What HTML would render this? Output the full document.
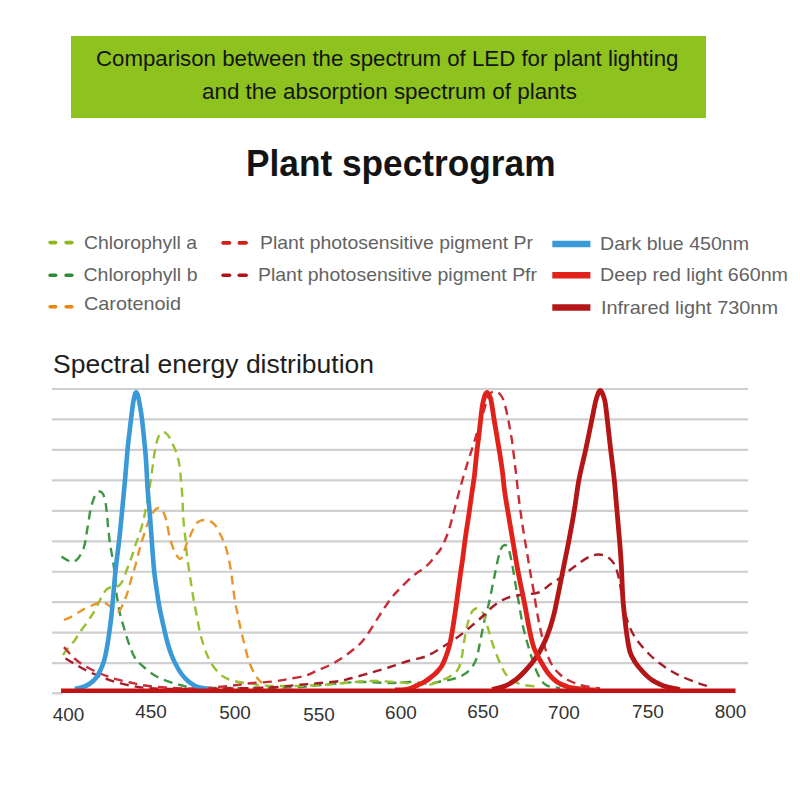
<!DOCTYPE html>
<html><head><meta charset="utf-8"><style>
html,body{margin:0;padding:0;background:#fff;}
body{width:800px;height:800px;overflow:hidden;}
svg{display:block;}
text{font-family:"Liberation Sans",sans-serif;}
</style></head><body>
<svg width="800" height="800" viewBox="0 0 800 800">
<rect x="0" y="0" width="800" height="800" fill="#fff"/>
<rect x="71" y="36" width="635" height="82" fill="#8dc21f"/>
<g fill="#141414" font-size="22.2">
<text x="96" y="66" textLength="582.5" lengthAdjust="spacingAndGlyphs">Comparison between the spectrum of LED for plant lighting</text>
<text x="202" y="99" textLength="375" lengthAdjust="spacingAndGlyphs">and the absorption spectrum of plants</text>
</g>
<text x="246" y="176" font-size="36" font-weight="bold" fill="#141414" textLength="309.5" lengthAdjust="spacingAndGlyphs">Plant spectrogram</text>
<g stroke-width="3.6" stroke-linecap="round">
<line x1="50.2" y1="242.6" x2="55.6" y2="242.6" stroke="#8cb81c"/><line x1="66.2" y1="242.6" x2="71.8" y2="242.6" stroke="#8cb81c"/>
<line x1="50.2" y1="275.2" x2="55.6" y2="275.2" stroke="#2b8c30"/><line x1="66.2" y1="275.2" x2="71.8" y2="275.2" stroke="#2b8c30"/>
<line x1="50.2" y1="306.7" x2="55.6" y2="306.7" stroke="#e8870f"/><line x1="66.2" y1="306.7" x2="71.8" y2="306.7" stroke="#e8870f"/>
<line x1="223.1" y1="242.9" x2="229.5" y2="242.9" stroke="#d41e16"/><line x1="239.3" y1="242.9" x2="246.1" y2="242.9" stroke="#d41e16"/>
<line x1="223.1" y1="275.3" x2="229.5" y2="275.3" stroke="#b0101a"/><line x1="239.3" y1="275.3" x2="246.1" y2="275.3" stroke="#b0101a"/>
</g>
<g stroke-width="6.5">
<line x1="552.3" y1="244" x2="590.4" y2="244" stroke="#3a9ad8"/>
<line x1="552.3" y1="275.3" x2="590.4" y2="275.3" stroke="#e0221a"/>
<line x1="552.3" y1="307.4" x2="590.4" y2="307.4" stroke="#b41618"/>
</g>
<g fill="#636363" font-size="17.8">
<text x="84" y="248.6" textLength="113" lengthAdjust="spacingAndGlyphs">Chlorophyll a</text>
<text x="83.5" y="281" textLength="114" lengthAdjust="spacingAndGlyphs">Chlorophyll b</text>
<text x="84" y="310.3" textLength="97" lengthAdjust="spacingAndGlyphs">Carotenoid</text>
<text x="260" y="249" textLength="273" lengthAdjust="spacingAndGlyphs">Plant photosensitive pigment Pr</text>
<text x="258" y="281" textLength="279" lengthAdjust="spacingAndGlyphs">Plant photosensitive pigment Pfr</text>
<text x="600" y="249.9" textLength="149" lengthAdjust="spacingAndGlyphs">Dark blue 450nm</text>
<text x="600" y="280.5" textLength="188" lengthAdjust="spacingAndGlyphs">Deep red light 660nm</text>
<text x="601" y="313.7" textLength="177" lengthAdjust="spacingAndGlyphs">Infrared light 730nm</text>
</g>
<text x="53" y="373.2" font-size="25.6" fill="#1e1e1e" textLength="321" lengthAdjust="spacingAndGlyphs">Spectral energy distribution</text>
<g stroke="#cfcfcf" stroke-width="2.2"><line x1="52" y1="389.00" x2="748" y2="389.00"/><line x1="52" y1="419.46" x2="748" y2="419.46"/><line x1="52" y1="449.92" x2="748" y2="449.92"/><line x1="52" y1="480.38" x2="748" y2="480.38"/><line x1="52" y1="510.84" x2="748" y2="510.84"/><line x1="52" y1="541.30" x2="748" y2="541.30"/><line x1="52" y1="571.76" x2="748" y2="571.76"/><line x1="52" y1="602.22" x2="748" y2="602.22"/><line x1="52" y1="632.68" x2="748" y2="632.68"/><line x1="52" y1="663.14" x2="748" y2="663.14"/><line x1="52" y1="693.3" x2="63" y2="693.3"/></g>
<path d="M61.5 556.5 C62.4 557.1 65.2 559.1 67.0 560.0 C68.8 560.9 70.2 562.2 72.0 562.0 C73.8 561.8 76.0 561.0 78.0 558.5 C80.0 556.0 82.5 551.6 84.0 547.0 C85.5 542.4 85.9 537.2 87.0 531.0 C88.1 524.8 89.3 515.5 90.5 510.0 C91.7 504.5 92.9 500.8 94.0 498.0 C95.1 495.2 96.0 494.1 97.0 493.0 C98.0 491.9 99.0 491.3 100.0 491.5 C101.0 491.7 102.2 492.6 103.0 494.0 C103.8 495.4 104.4 497.3 105.0 500.0 C105.6 502.7 105.8 503.3 106.5 510.0 C107.2 516.7 108.6 532.5 109.5 540.0 C110.4 547.5 111.2 550.3 112.0 555.0 C112.8 559.7 113.3 562.2 114.0 568.0 C114.7 573.8 115.4 584.7 116.0 590.0 C116.6 595.3 116.8 596.0 117.5 600.0 C118.2 604.0 118.9 609.3 120.0 614.0 C121.1 618.7 122.5 623.0 124.0 628.0 C125.5 633.0 127.2 639.0 129.0 644.0 C130.8 649.0 132.7 654.3 135.0 658.0 C137.3 661.7 139.2 663.0 142.6 666.0 C146.0 669.0 150.9 673.2 155.7 676.0 C160.5 678.8 166.9 680.9 171.5 682.5 C176.1 684.1 179.8 684.9 183.3 685.8 C186.8 686.7 186.4 687.4 192.5 687.8 C198.6 688.2 208.8 688.0 220.0 688.0 C231.2 688.0 246.7 688.2 260.0 688.0 C273.3 687.8 288.3 687.7 300.0 687.0 C311.7 686.3 320.0 684.8 330.0 684.0 C340.0 683.2 350.0 682.2 360.0 682.0 C370.0 681.8 381.7 683.0 390.0 683.0 C398.3 683.0 403.6 681.9 410.0 682.0 C416.4 682.1 423.1 683.6 428.2 683.5 C433.4 683.4 436.7 682.2 440.6 681.5 C444.5 680.8 447.9 680.4 451.6 679.4 C455.3 678.4 459.4 677.1 462.6 675.3 C465.8 673.5 468.7 671.2 471.0 668.4 C473.3 665.6 475.0 662.6 476.4 658.8 C477.8 654.9 478.5 649.8 479.5 645.0 C480.5 640.2 481.5 634.8 482.5 630.0 C483.5 625.2 484.4 620.5 485.5 616.0 C486.6 611.5 487.7 608.6 489.0 602.8 C490.3 596.9 492.2 587.1 493.5 581.0 C494.8 574.9 495.5 570.7 496.5 566.0 C497.5 561.3 498.6 556.2 499.5 553.0 C500.4 549.8 501.1 548.3 502.0 547.0 C502.9 545.7 503.8 545.0 504.8 545.0 C505.7 545.0 506.6 545.5 507.5 547.0 C508.4 548.5 509.1 550.3 510.0 554.0 C510.9 557.7 512.0 563.5 513.0 569.0 C514.0 574.5 515.1 581.7 516.0 587.0 C516.9 592.3 517.3 594.3 518.5 601.0 C519.7 607.7 521.4 619.1 523.2 627.2 C525.1 635.4 527.1 642.4 529.4 650.0 C531.7 657.6 534.5 666.9 537.2 672.8 C540.0 678.6 542.2 682.5 546.0 685.0 C549.8 687.5 557.7 687.5 560.0 688.0" stroke="#3d9644" stroke-width="2.4" stroke-dasharray="9 6" fill="none"/><path d="M63.0 655.0 C63.8 653.8 66.0 650.5 68.0 648.0 C70.0 645.5 73.0 642.7 75.0 640.0 C77.0 637.3 78.2 634.7 80.0 632.0 C81.8 629.3 84.0 626.8 86.0 624.0 C88.0 621.2 90.5 617.3 92.0 615.0 C93.5 612.7 93.8 612.2 95.0 610.0 C96.2 607.8 97.8 604.3 99.0 602.0 C100.2 599.7 100.8 598.0 102.0 596.0 C103.2 594.0 104.7 591.4 106.0 590.0 C107.3 588.6 108.5 588.0 110.0 587.5 C111.5 587.0 113.5 587.3 115.0 587.0 C116.5 586.7 117.8 586.5 119.0 585.5 C120.2 584.5 121.1 583.9 122.5 581.0 C123.9 578.1 126.0 571.9 127.5 568.0 C129.0 564.1 130.2 561.1 131.5 557.5 C132.8 553.9 133.8 549.8 135.0 546.2 C136.2 542.7 137.5 540.0 138.8 536.2 C140.0 532.5 141.4 528.1 142.5 523.8 C143.6 519.4 144.2 517.1 145.6 510.0 C146.9 502.9 149.4 488.3 150.6 481.2 C151.8 474.2 151.8 472.2 152.5 467.5 C153.2 462.8 153.8 457.1 154.5 453.0 C155.2 448.9 155.8 445.8 156.5 443.0 C157.2 440.2 157.7 438.2 158.5 436.5 C159.3 434.8 160.4 433.2 161.5 432.5 C162.6 431.8 163.8 431.9 165.0 432.5 C166.2 433.1 167.3 434.3 168.5 436.0 C169.7 437.7 170.7 439.8 172.0 442.5 C173.3 445.2 175.0 448.8 176.2 452.5 C177.5 456.2 178.6 460.0 179.4 465.0 C180.2 470.0 180.7 476.7 181.2 482.5 C181.8 488.3 182.2 494.6 182.5 500.0 C182.8 505.4 182.8 510.0 183.1 515.0 C183.4 520.0 184.0 525.8 184.4 530.0 C184.8 534.2 185.2 535.8 185.6 540.0 C186.0 544.2 186.3 549.6 186.9 555.0 C187.5 560.4 188.6 566.9 189.4 572.5 C190.2 578.1 191.1 583.8 191.9 588.8 C192.7 593.7 193.2 597.3 194.0 602.0 C194.8 606.7 196.0 611.9 197.0 617.0 C198.0 622.1 198.9 627.9 200.0 632.6 C201.1 637.3 202.2 640.9 203.5 645.0 C204.8 649.1 206.4 653.5 208.0 657.0 C209.6 660.5 210.7 662.9 213.0 666.0 C215.3 669.1 218.5 673.2 222.0 675.8 C225.5 678.2 229.5 679.8 234.0 681.0 C238.5 682.2 244.2 682.5 249.0 683.2 C253.8 684.0 255.7 685.0 262.5 685.5 C269.3 686.0 280.4 686.1 290.0 686.0 C299.6 685.9 310.8 685.5 320.0 685.0 C329.2 684.5 336.7 683.7 345.0 683.0 C353.3 682.3 361.7 681.2 370.0 681.0 C378.3 680.8 387.5 681.5 395.0 682.0 C402.5 682.5 409.5 683.5 415.0 684.0 C420.5 684.5 424.0 685.5 428.2 685.0 C432.5 684.5 436.7 682.4 440.6 680.8 C444.5 679.2 448.6 677.4 451.6 675.3 C454.6 673.2 456.8 671.6 458.5 668.4 C460.2 665.2 461.1 660.4 462.0 656.0 C462.9 651.6 463.2 646.8 464.0 642.0 C464.8 637.2 465.9 631.1 466.8 627.0 C467.7 622.9 468.6 620.2 469.5 617.5 C470.4 614.8 471.4 612.5 472.5 611.0 C473.6 609.5 474.8 608.8 476.0 608.5 C477.2 608.2 478.3 608.7 479.5 609.5 C480.7 610.3 481.5 610.0 483.0 613.2 C484.5 616.5 486.5 623.5 488.2 629.0 C490.0 634.5 491.5 640.7 493.5 646.5 C495.5 652.3 498.2 659.0 500.5 664.0 C502.8 669.0 504.2 672.9 507.5 676.2 C510.8 679.6 514.6 682.2 520.0 684.0 C525.4 685.8 536.7 686.5 540.0 687.0" stroke="#98c030" stroke-width="2.4" stroke-dasharray="9 6" fill="none"/><path d="M64.0 620.0 C65.3 619.4 69.3 617.9 72.0 616.5 C74.7 615.1 77.8 612.8 80.0 611.5 C82.2 610.2 82.8 609.6 85.0 608.5 C87.2 607.4 90.8 605.9 93.0 605.0 C95.2 604.1 96.0 603.3 98.0 603.0 C100.0 602.7 103.1 602.5 105.0 603.0 C106.9 603.5 108.0 605.0 109.5 606.0 C111.0 607.0 112.4 608.2 114.0 609.0 C115.6 609.8 117.5 611.8 119.0 611.0 C120.5 610.2 121.7 606.8 123.0 604.0 C124.3 601.2 125.7 598.0 127.0 594.0 C128.3 590.0 129.5 585.2 131.0 580.0 C132.5 574.8 134.8 567.9 136.2 562.5 C137.8 557.1 138.6 552.4 140.0 547.5 C141.4 542.6 142.9 537.8 144.5 533.0 C146.1 528.2 147.8 522.8 149.5 519.0 C151.2 515.2 153.0 512.3 154.5 510.5 C156.0 508.7 157.2 508.0 158.5 508.0 C159.8 508.0 161.4 509.2 162.5 510.5 C163.6 511.8 164.2 513.8 165.0 516.0 C165.8 518.2 166.3 520.1 167.0 523.5 C167.7 526.9 168.7 533.1 169.4 536.2 C170.1 539.4 170.3 539.8 171.2 542.5 C172.2 545.2 173.6 549.8 175.0 552.5 C176.4 555.2 178.2 558.1 179.4 558.8 C180.7 559.4 181.4 558.5 182.5 556.2 C183.6 554.0 185.0 548.3 186.2 545.0 C187.5 541.7 188.8 539.1 190.0 536.2 C191.2 533.4 192.4 530.4 193.8 528.0 C195.1 525.6 196.3 523.3 198.0 522.0 C199.7 520.7 201.8 520.2 203.8 520.0 C205.8 519.8 208.1 520.2 210.0 521.0 C211.9 521.8 213.3 522.9 215.0 525.0 C216.7 527.1 218.3 530.4 220.0 533.8 C221.7 537.1 223.5 540.8 225.0 545.0 C226.5 549.2 227.7 553.8 228.8 558.8 C229.8 563.8 230.5 568.1 231.5 575.0 C232.5 581.9 233.8 593.3 234.8 600.0 C235.9 606.7 236.8 610.0 237.8 615.0 C238.8 620.0 239.8 625.0 240.9 630.0 C242.0 635.0 243.3 639.8 244.6 645.0 C245.9 650.2 247.3 656.4 248.8 661.0 C250.3 665.6 252.3 669.5 253.8 672.5 C255.3 675.5 256.6 677.2 258.0 679.0 C259.4 680.8 261.3 682.3 262.0 683.0" stroke="#e8962c" stroke-width="2.4" stroke-dasharray="9 6" fill="none"/><path d="M65.5 658.5 C67.0 659.4 71.2 661.9 74.5 663.8 C77.8 665.6 80.8 667.6 85.0 669.8 C89.2 671.9 95.0 674.5 100.0 676.5 C105.0 678.5 110.0 680.2 115.0 681.8 C120.0 683.2 125.0 684.5 130.0 685.5 C135.0 686.5 138.3 687.2 145.0 687.8 C151.7 688.3 155.4 688.9 170.0 689.0 C184.6 689.1 215.4 688.7 232.5 688.4 C249.6 688.1 261.7 687.8 272.5 687.2 C283.3 686.7 290.0 685.7 297.5 685.0 C305.0 684.3 310.4 684.0 317.5 683.3 C324.6 682.6 334.6 681.8 340.0 681.0 C345.4 680.2 345.0 679.8 350.0 678.5 C355.0 677.2 363.3 674.9 370.0 673.0 C376.7 671.1 383.3 669.1 390.0 667.0 C396.7 664.9 404.3 662.2 410.0 660.5 C415.7 658.8 420.0 658.3 424.0 657.0 C428.0 655.7 430.5 654.2 433.8 652.5 C437.0 650.8 440.0 648.8 443.4 646.6 C446.8 644.4 450.7 642.1 454.4 639.5 C458.1 636.9 462.0 634.0 465.4 631.2 C468.8 628.5 472.1 625.5 475.0 623.0 C477.9 620.5 480.5 618.3 483.0 616.0 C485.5 613.7 487.2 611.4 490.0 609.0 C492.8 606.6 496.7 603.5 500.0 601.5 C503.3 599.5 506.7 598.1 510.0 597.0 C513.3 595.9 516.7 595.5 520.0 595.0 C523.3 594.5 526.7 594.5 530.0 594.0 C533.3 593.5 536.7 593.6 540.0 592.0 C543.3 590.4 546.7 586.8 550.0 584.5 C553.3 582.2 556.7 580.4 560.0 578.0 C563.3 575.6 566.7 572.6 570.0 570.0 C573.3 567.4 576.7 564.8 580.0 562.5 C583.3 560.2 587.0 557.8 590.0 556.5 C593.0 555.2 595.3 554.6 598.0 554.5 C600.7 554.4 603.7 554.9 606.0 556.0 C608.3 557.1 610.3 559.0 612.0 561.0 C613.7 563.0 614.8 565.0 616.0 568.0 C617.2 571.0 618.2 575.3 619.0 579.0 C619.8 582.7 620.3 586.0 621.0 590.0 C621.7 594.0 622.1 598.3 623.0 603.0 C623.9 607.7 625.0 613.2 626.5 618.0 C628.0 622.8 629.8 627.7 632.0 632.0 C634.2 636.3 637.0 640.2 640.0 644.0 C643.0 647.8 646.7 651.8 650.0 655.0 C653.3 658.2 656.3 660.8 660.0 663.5 C663.7 666.2 667.8 669.1 672.0 671.5 C676.2 673.9 680.3 676.0 685.0 678.0 C689.7 680.0 695.5 682.2 700.0 683.8 C704.5 685.3 710.0 686.9 712.0 687.5" stroke="#a61c28" stroke-width="2.4" stroke-dasharray="9 6" fill="none"/><path d="M64.0 647.2 C65.8 649.1 71.0 655.4 74.5 658.5 C78.0 661.6 80.8 663.5 85.0 666.0 C89.2 668.5 95.0 671.4 100.0 673.5 C105.0 675.6 110.0 677.2 115.0 678.8 C120.0 680.2 125.0 681.4 130.0 682.5 C135.0 683.6 138.8 684.6 145.0 685.5 C151.2 686.4 158.3 687.2 167.5 687.7 C176.7 688.2 189.2 688.8 200.0 688.4 C210.8 688.0 224.2 686.4 232.5 685.5 C240.8 684.6 243.3 683.9 250.0 683.3 C256.7 682.6 265.9 682.4 272.5 681.6 C279.1 680.9 283.8 679.8 289.4 678.8 C295.0 677.8 301.6 676.8 306.2 675.4 C310.9 674.0 313.5 672.1 317.5 670.4 C321.5 668.7 325.9 667.1 330.0 665.0 C334.1 662.9 338.0 660.7 342.0 658.0 C346.0 655.3 350.3 652.1 354.0 649.0 C357.7 645.9 360.1 644.4 364.0 639.3 C367.9 634.2 373.9 624.2 377.5 618.6 C381.1 613.0 383.2 609.7 385.8 605.9 C388.3 602.1 390.6 598.9 393.0 596.0 C395.4 593.1 397.0 591.6 400.0 588.5 C403.0 585.4 408.1 580.2 411.0 577.5 C413.9 574.8 415.3 574.1 417.5 572.5 C419.7 570.9 421.9 569.7 424.0 568.0 C426.1 566.3 428.2 564.5 430.0 562.5 C431.8 560.5 433.3 558.1 435.0 556.0 C436.7 553.9 438.5 552.2 440.0 550.0 C441.5 547.8 442.8 545.2 444.0 542.5 C445.2 539.8 446.3 537.3 447.5 534.0 C448.7 530.7 449.9 526.5 451.0 522.5 C452.1 518.5 453.1 514.8 454.3 510.0 C455.6 505.2 457.1 499.3 458.5 494.0 C459.9 488.7 461.5 483.2 463.0 478.0 C464.5 472.8 466.0 467.8 467.5 463.0 C469.0 458.2 470.6 453.5 472.0 449.0 C473.4 444.5 474.7 440.3 476.0 436.0 C477.3 431.7 478.8 427.0 480.0 423.0 C481.2 419.0 482.4 415.5 483.5 412.0 C484.6 408.5 485.5 404.9 486.5 402.0 C487.5 399.1 488.4 396.2 489.5 394.5 C490.6 392.8 491.6 391.8 493.0 391.5 C494.4 391.2 496.5 391.6 498.0 392.5 C499.5 393.4 500.8 394.9 502.0 397.0 C503.2 399.1 504.1 401.8 505.0 405.0 C505.9 408.2 506.7 412.2 507.5 416.0 C508.3 419.8 509.1 424.0 509.8 428.0 C510.5 432.0 511.2 435.5 511.9 440.0 C512.6 444.5 513.1 450.0 513.8 455.0 C514.4 460.0 514.7 462.5 515.6 470.0 C516.5 477.5 517.8 490.5 519.0 500.0 C520.2 509.5 521.5 518.8 522.8 527.0 C524.0 535.2 525.2 542.0 526.5 549.5 C527.8 557.0 529.1 565.5 530.2 572.0 C531.4 578.5 532.1 581.8 533.2 588.5 C534.4 595.2 535.7 604.8 537.0 612.0 C538.3 619.2 539.5 625.5 541.0 632.0 C542.5 638.5 544.2 645.5 546.0 651.0 C547.8 656.5 549.7 661.1 552.0 665.0 C554.3 668.9 557.0 671.8 560.0 674.5 C563.0 677.2 566.3 679.2 570.0 681.0 C573.7 682.8 577.0 684.2 582.0 685.5 C587.0 686.8 597.0 688.0 600.0 688.5" stroke="#c82c38" stroke-width="2.4" stroke-dasharray="9 6" fill="none"/><path d="M75.0 689.0 C76.5 688.6 81.5 687.5 84.0 686.6 C86.5 685.7 88.0 684.9 90.0 683.5 C92.0 682.1 94.2 680.2 96.0 678.0 C97.8 675.8 99.2 672.8 100.5 670.0 C101.8 667.2 103.0 664.3 104.0 661.0 C105.0 657.7 105.8 653.8 106.5 650.0 C107.2 646.2 107.9 642.2 108.5 638.0 C109.1 633.8 109.7 629.7 110.3 625.0 C110.9 620.3 111.1 619.2 112.0 610.0 C112.9 600.8 114.4 581.7 115.6 570.0 C116.8 558.3 118.1 550.0 119.2 540.0 C120.3 530.0 121.2 520.0 122.2 510.0 C123.2 500.0 124.1 490.0 125.0 480.0 C125.9 470.0 126.8 458.0 127.5 450.0 C128.2 442.0 128.9 437.5 129.5 432.0 C130.1 426.5 130.7 422.0 131.3 417.0 C131.9 412.0 132.6 406.0 133.3 402.0 C134.0 398.0 134.8 394.2 135.5 393.0 C136.2 391.8 136.9 392.5 137.6 394.5 C138.3 396.5 139.1 400.9 139.8 405.0 C140.5 409.1 141.3 413.2 142.0 419.0 C142.7 424.8 143.5 433.2 144.2 440.0 C144.9 446.8 145.4 451.7 146.0 460.0 C146.6 468.3 147.1 481.7 147.7 490.0 C148.3 498.3 148.9 503.3 149.5 510.0 C150.1 516.7 150.5 523.7 151.0 530.0 C151.5 536.3 151.9 542.2 152.3 548.0 C152.7 553.8 153.2 560.0 153.6 565.0 C154.0 570.0 154.4 573.5 155.0 578.0 C155.6 582.5 156.3 587.5 157.0 592.0 C157.7 596.5 158.2 600.8 159.0 605.0 C159.8 609.2 160.6 612.9 161.5 617.0 C162.4 621.1 163.3 625.3 164.3 629.5 C165.3 633.7 166.1 637.8 167.3 642.0 C168.5 646.2 169.9 650.8 171.3 654.5 C172.7 658.2 174.1 661.2 175.8 664.5 C177.5 667.8 179.5 671.2 181.5 674.0 C183.5 676.8 185.9 679.1 188.0 681.0 C190.1 682.9 192.0 684.2 194.0 685.3 C196.0 686.4 197.7 687.0 200.0 687.6 C202.3 688.2 206.7 688.8 208.0 689.0" stroke="#3a9ad8" stroke-width="4.6" fill="none" stroke-linejoin="round"/><path d="M492.0 689.5 C494.2 688.9 501.0 687.7 505.0 686.0 C509.0 684.3 512.7 682.0 516.0 679.5 C519.3 677.0 522.1 674.1 525.0 671.0 C527.9 667.9 531.0 664.3 533.5 661.0 C536.0 657.7 538.1 654.3 540.0 651.0 C541.9 647.7 543.3 644.8 545.0 641.0 C546.7 637.2 548.5 632.5 550.0 628.0 C551.5 623.5 552.8 618.7 554.0 614.0 C555.2 609.3 555.8 605.7 557.0 600.0 C558.2 594.3 559.7 586.7 561.0 580.0 C562.3 573.3 563.7 566.7 565.0 560.0 C566.3 553.3 567.5 548.2 569.0 540.0 C570.5 531.8 572.6 521.0 574.2 511.0 C575.9 501.0 577.0 490.2 578.9 480.0 C580.8 469.8 583.4 460.1 585.6 450.0 C587.8 439.9 590.2 427.7 591.9 419.5 C593.6 411.3 594.6 405.5 595.7 401.0 C596.8 396.5 597.8 394.3 598.5 392.5 C599.2 390.7 599.6 390.3 600.2 390.3 C600.8 390.3 601.2 390.7 602.0 392.5 C602.8 394.3 604.0 396.5 604.9 401.0 C605.8 405.5 606.3 411.3 607.3 419.5 C608.3 427.7 609.5 439.9 610.7 450.0 C611.9 460.1 613.2 469.8 614.3 480.0 C615.3 490.2 616.1 501.0 617.0 511.0 C617.9 521.0 618.8 531.8 619.5 540.0 C620.2 548.2 620.6 553.3 621.0 560.0 C621.4 566.7 621.7 573.3 622.0 580.0 C622.3 586.7 622.5 593.3 623.0 600.0 C623.5 606.7 624.3 614.0 625.0 620.0 C625.7 626.0 626.2 630.7 627.0 636.0 C627.8 641.3 628.7 647.7 630.0 652.0 C631.3 656.3 633.3 659.2 635.0 662.0 C636.7 664.8 638.2 666.3 640.0 668.5 C641.8 670.7 644.0 673.1 646.0 675.0 C648.0 676.9 649.0 678.2 652.0 680.0 C655.0 681.8 659.3 684.4 664.0 686.0 C668.7 687.6 677.3 688.9 680.0 689.5" stroke="#b41618" stroke-width="4.8" fill="none" stroke-linejoin="round"/><path d="M395.0 690.0 C397.2 689.8 404.2 689.8 408.0 689.0 C411.8 688.2 415.2 686.2 418.0 685.0 C420.8 683.8 423.0 682.7 425.0 681.5 C427.0 680.3 428.1 679.5 430.0 678.0 C431.9 676.5 434.5 674.6 436.5 672.5 C438.5 670.4 440.4 668.4 442.0 665.6 C443.6 662.9 444.8 659.4 446.1 656.0 C447.4 652.6 448.6 649.1 449.6 645.0 C450.6 640.9 451.5 635.8 452.3 631.2 C453.1 626.7 453.7 622.1 454.4 617.5 C455.1 612.9 455.7 608.7 456.4 603.8 C457.1 598.8 457.7 593.6 458.5 588.0 C459.3 582.4 460.3 574.7 461.0 570.0 C461.7 565.3 461.8 564.9 462.5 560.0 C463.2 555.1 464.0 548.0 465.0 540.5 C466.0 533.0 467.6 523.1 468.8 515.0 C469.9 506.9 471.0 498.7 472.0 492.0 C473.0 485.3 473.8 481.2 474.5 475.0 C475.2 468.8 475.8 461.5 476.5 455.0 C477.2 448.5 478.1 442.1 478.8 436.2 C479.4 430.4 480.0 425.2 480.6 420.0 C481.2 414.8 481.8 409.0 482.5 405.0 C483.2 401.0 484.0 398.1 484.7 396.0 C485.4 393.9 486.2 392.7 486.9 392.5 C487.6 392.3 488.3 393.6 489.0 395.0 C489.7 396.4 490.5 397.2 491.2 401.0 C492.0 404.8 492.8 411.6 493.8 417.5 C494.7 423.4 495.9 430.0 496.9 436.2 C497.9 442.5 499.1 449.0 500.0 455.0 C500.9 461.0 501.7 465.8 502.5 472.0 C503.3 478.2 503.6 484.6 504.8 492.5 C505.9 500.4 507.8 510.8 509.2 519.5 C510.7 528.2 512.2 537.0 513.5 545.0 C514.8 553.0 516.1 561.0 517.3 567.5 C518.5 574.0 519.2 577.6 520.5 584.0 C521.8 590.4 523.5 598.3 525.0 606.0 C526.5 613.7 528.0 623.0 529.5 630.0 C531.0 637.0 532.2 643.0 534.0 648.0 C535.8 653.0 537.7 655.8 540.0 660.0 C542.3 664.2 545.2 669.3 548.0 673.0 C550.8 676.7 553.8 679.8 557.0 682.0 C560.2 684.2 563.2 685.3 567.0 686.5 C570.8 687.7 575.3 688.4 580.0 689.0 C584.7 689.6 592.5 689.8 595.0 690.0" stroke="#e0221a" stroke-width="4.8" fill="none" stroke-linejoin="round"/><line x1="61" y1="690.7" x2="735.5" y2="690.7" stroke="#c21214" stroke-width="4.5"/>
<g fill="#333" font-size="19.2"><text x="52.7" y="720.5" textLength="31.6" lengthAdjust="spacingAndGlyphs">400</text><text x="135.3" y="717.5" textLength="31.6" lengthAdjust="spacingAndGlyphs">450</text><text x="219.2" y="719.1" textLength="31.6" lengthAdjust="spacingAndGlyphs">500</text><text x="303.2" y="720.6" textLength="31.6" lengthAdjust="spacingAndGlyphs">550</text><text x="385.1" y="719.1" textLength="31.6" lengthAdjust="spacingAndGlyphs">600</text><text x="467.3" y="717.5" textLength="31.6" lengthAdjust="spacingAndGlyphs">650</text><text x="548.1" y="718.7" textLength="31.6" lengthAdjust="spacingAndGlyphs">700</text><text x="632.1" y="717.5" textLength="31.6" lengthAdjust="spacingAndGlyphs">750</text><text x="714.7" y="717.5" textLength="31.6" lengthAdjust="spacingAndGlyphs">800</text></g>
</svg>
</body></html>
